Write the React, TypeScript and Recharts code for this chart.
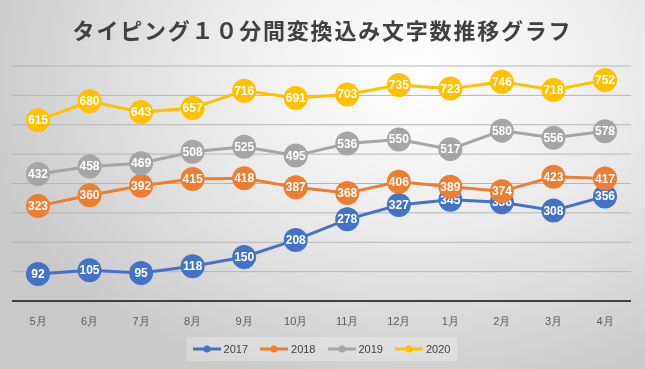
import { CartesianGrid, Legend, Line, LineChart, XAxis, YAxis } from "recharts"

// 5月〜翌4月の月次推移
const MONTHS = ["5月", "6月", "7月", "8月", "9月", "10月", "11月", "12月", "1月", "2月", "3月", "4月"]
const Y2017 = [92, 105, 95, 118, 150, 208, 278, 327, 345, 336, 308, 356]
const Y2018 = [323, 360, 392, 415, 418, 387, 368, 406, 389, 374, 423, 417]
const Y2019 = [432, 458, 469, 508, 525, 495, 536, 550, 517, 580, 556, 578]
const Y2020 = [615, 680, 643, 657, 716, 691, 703, 735, 723, 746, 718, 752]
const Y_TICKS = [0, 100, 200, 300, 400, 500, 600, 700, 800]

const SERIES = [
  { key: "2017", color: "#4472C4" },
  { key: "2018", color: "#ED7D31" },
  { key: "2019", color: "#A5A5A5" },
  { key: "2020", color: "#FFC000" },
]

const data = MONTHS.map((m, i) => ({
  month: m,
  "2017": Y2017[i],
  "2018": Y2018[i],
  "2019": Y2019[i],
  "2020": Y2020[i],
}))

const FONT = "'Liberation Sans', Arial, sans-serif"

function makeDot(color: string) {
  return (props: any) => {
    const { cx, cy, value, index } = props
    if (cx == null || cy == null) return <g key={index} />
    return (
      <g key={index}>
        <circle cx={cx} cy={cy} r={12} fill={color} />
        <text
          x={cx}
          y={cy}
          dy={4}
          textAnchor="middle"
          fill="#fff"
          fontSize={12}
          fontWeight="bold"
          fontFamily={FONT}
        >
          {value}
        </text>
      </g>
    )
  }
}

function LegendBox() {
  return (
    <div
      style={{
        width: 270,
        height: 24,
        margin: "0 auto",
        background: "rgba(255,255,255,0.25)",
        display: "flex",
        alignItems: "center",
        justifyContent: "center",
        gap: 12,
        fontFamily: FONT,
        fontSize: 11,
        color: "#404040",
      }}
    >
      {SERIES.map((s) => (
        <span key={s.key} style={{ display: "flex", alignItems: "center", gap: 3 }}>
          <svg width={28} height={8}>
            <line x1={0} y1={4} x2={28} y2={4} stroke={s.color} strokeWidth={3} />
            <circle cx={14} cy={4} r={3.5} fill={s.color} />
          </svg>
          {s.key}
        </span>
      ))}
    </div>
  )
}

export default function App() {
  return (
    <div
      style={{
        position: "fixed",
        left: 0,
        top: 0,
        width: 645,
        height: 369,
        background: "radial-gradient(ellipse 70% 90% at 65% 20%, #ffffff 0%, #ececec 45%, #c9c9c9 100%)",
      }}
    >
      <div
        style={{
          position: "absolute",
          top: 13,
          left: 0,
          width: 645,
          textAlign: "center",
          fontFamily: "'Noto Sans CJK JP', sans-serif",
          fontWeight: "bold",
          fontSize: 22,
          letterSpacing: 1.8,
          color: "#404040",
        }}
      >
        タイピング１０分間変換込み文字数推移グラフ
      </div>
      <LineChart width={645} height={369} data={data} margin={{ top: 66, right: 14, left: 12, bottom: 8 }}>
        <CartesianGrid vertical={false} stroke="#b4b4b4" strokeWidth={1} />
        <XAxis
          dataKey="month"
          axisLine={{ stroke: "#404040", strokeWidth: 2 }}
          tickLine={false}
          tick={{ fontSize: 11, fill: "#595959", fontFamily: FONT }}
          tickMargin={10}
          height={36}
          padding={{ left: 26, right: 26 }}
        />
        <YAxis hide domain={[0, 800]} ticks={Y_TICKS} />
        <Legend verticalAlign="bottom" content={() => <LegendBox />} />
        {SERIES.map((s) => (
          <Line
            key={s.key}
            dataKey={s.key}
            stroke={s.color}
            strokeWidth={3}
            dot={makeDot(s.color)}
            activeDot={false}
            isAnimationActive={false}
          />
        ))}
      </LineChart>
    </div>
  )
}
